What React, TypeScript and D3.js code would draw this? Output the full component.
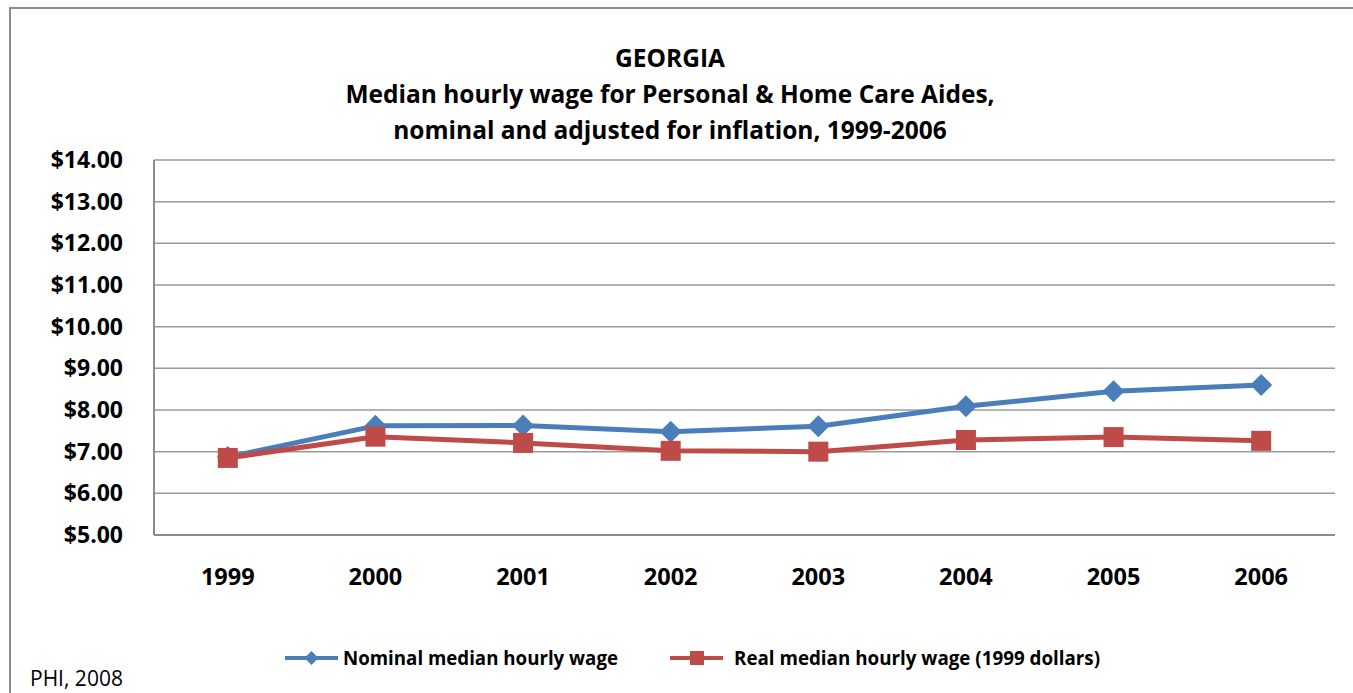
import React from 'react';
import * as d3 from 'd3';

const years = ['1999', '2000', '2001', '2002', '2003', '2004', '2005', '2006'];
const nominal = [6.87, 7.62, 7.63, 7.48, 7.61, 8.09, 8.45, 8.6];
const real = [6.85, 7.36, 7.21, 7.02, 7.0, 7.28, 7.35, 7.26];
const yTicks = [5, 6, 7, 8, 9, 10, 11, 12, 13, 14];
const titleLines = [
  'GEORGIA',
  'Median hourly wage for Personal & Home Care Aides,',
  'nominal and adjusted for inflation, 1999-2006',
];
const seriesNames = ['Nominal median hourly wage', 'Real median hourly wage (1999 dollars)'];

const W = 1353;
const H = 693;
const FONT = "'Open Sans', 'Liberation Sans', sans-serif";
const BLUE = '#4a7ebb';
const RED = '#be4b48';

export default function App() {
  const plot = { left: 154, top: 160, right: 1335, bottom: 535 };

  const x = d3.scaleBand().domain(years).range([plot.left, plot.right]);
  const y = d3.scaleLinear().domain([5, 14]).range([plot.bottom, plot.top]);
  const cx = (yr) => x(yr) + x.bandwidth() / 2;

  const line = d3.line().x((d, i) => cx(years[i])).y(d => y(d));

  const diamond = (px, py, r) => `M${px},${py - r}L${px + r},${py}L${px},${py + r}L${px - r},${py}Z`;

  return (
    <svg width={W} height={H} style={{ position: 'absolute', left: 0, top: 0 }} fontFamily={FONT}>
      <rect x={0} y={0} width={W} height={H} fill="#fff" />
      <rect x={10} y={8} width={W + 20} height={H + 20} fill="none" stroke="#8c8c8c" strokeWidth={2} />

      {titleLines.map((t, i) => (
        <text key={i} x={670} y={67 + i * 36} textAnchor="middle" fontSize={24.5} fontWeight="bold" fill="#000">
          {t}
        </text>
      ))}

      {yTicks.map(t => (
        <g key={t}>
          {t > 5 && (
            <line x1={plot.left} x2={plot.right} y1={y(t)} y2={y(t)} stroke="#9a9a9a" strokeWidth={1.5} />
          )}
          <text x={123} y={y(t) + 8} textAnchor="end" fontSize={23} fontWeight="bold" fill="#000">
            {`$${t.toFixed(2)}`}
          </text>
        </g>
      ))}

      <line x1={plot.left} x2={plot.left} y1={plot.top} y2={plot.bottom} stroke="#8c8c8c" strokeWidth={2} />
      <line x1={plot.left} x2={plot.right} y1={plot.bottom} y2={plot.bottom} stroke="#8c8c8c" strokeWidth={2} />

      {years.map(yr => (
        <text key={yr} x={cx(yr)} y={585} textAnchor="middle" fontSize={23.5} fontWeight="bold" fill="#000">
          {yr}
        </text>
      ))}

      <path d={line(nominal)} fill="none" stroke={BLUE} strokeWidth={5} strokeLinejoin="round" />
      {nominal.map((v, i) => (
        <path key={i} d={diamond(cx(years[i]), y(v), 11)} fill={BLUE} />
      ))}

      <path d={line(real)} fill="none" stroke={RED} strokeWidth={5} strokeLinejoin="round" />
      {real.map((v, i) => (
        <rect key={i} x={cx(years[i]) - 10} y={y(v) - 10} width={20} height={20} fill={RED} />
      ))}

      <g>
        <line x1={285} x2={338} y1={658} y2={658} stroke={BLUE} strokeWidth={4} />
        <path d={diamond(311.5, 658, 7)} fill={BLUE} />
        <text x={343} y={665} fontSize={18.7} fontWeight="bold" fill="#000">{seriesNames[0]}</text>

        <line x1={670} x2={723} y1={658} y2={658} stroke={RED} strokeWidth={4} />
        <rect x={690} y={651} width={14} height={14} fill={RED} />
        <text x={734} y={665} fontSize={18.8} fontWeight="bold" fill="#000">{seriesNames[1]}</text>
      </g>

      <text x={30} y={686} fontSize={21} fill="#000">PHI, 2008</text>
    </svg>
  );
}
